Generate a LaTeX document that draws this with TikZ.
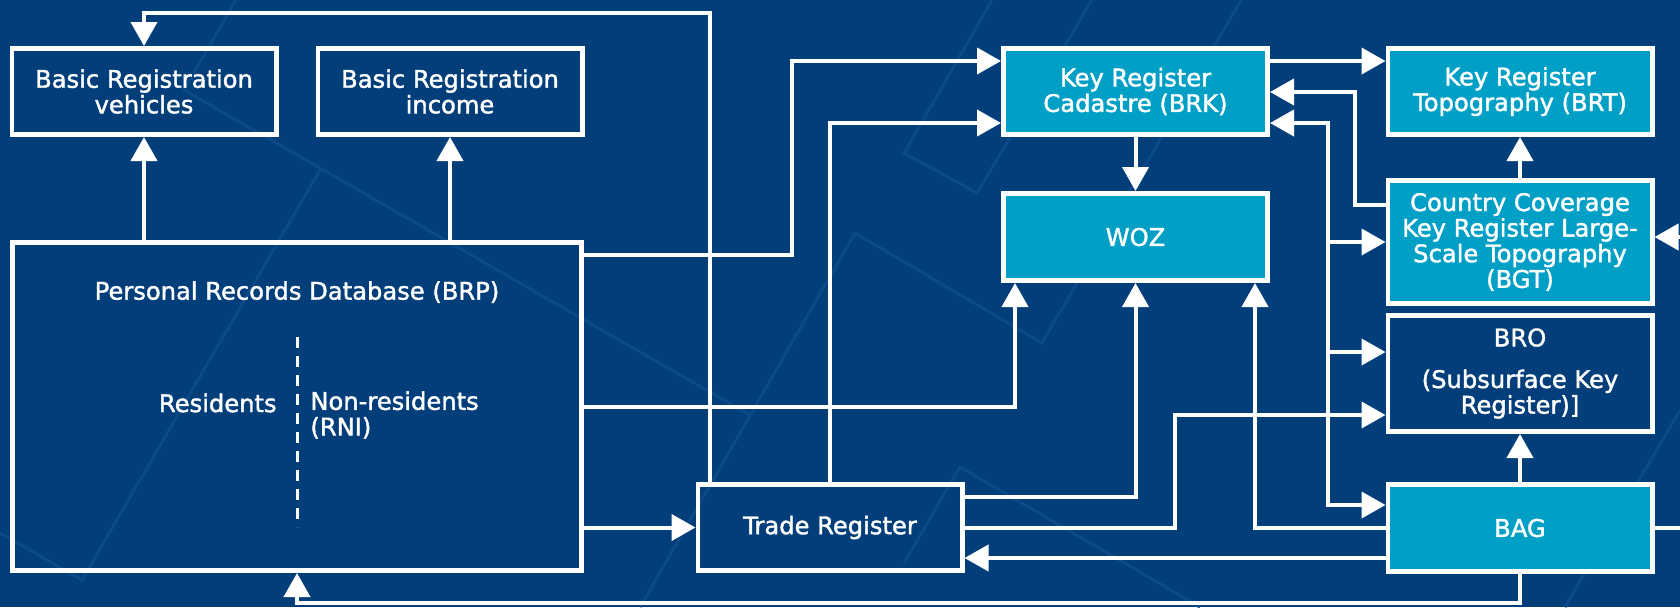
\documentclass[tikz,border=0pt]{standalone}
\usepackage{fontspec}
\setmainfont{DejaVu Sans}[RawFeature={embolden=1.6}]
\usetikzlibrary{arrows.meta}
\definecolor{navy}{RGB}{1,62,122}
\definecolor{cyanbox}{RGB}{0,160,198}
\definecolor{deco}{RGB}{11,73,136}
\newcommand{\fz}{\fontsize{12.1pt}{12.8pt}\selectfont}
\begin{document}
\begin{tikzpicture}[x=0.5pt,y=-0.5pt,
  >={Triangle[length=12pt,width=13pt]},
  box/.style={draw=white,line width=2.3pt,text=white,align=center,inner sep=0pt,
    minimum width=132.2pt,minimum height=43.2pt,font=\fz},
  lite/.style={box,fill=cyanbox},
  link/.style={draw=white,line width=2pt},
  decoline/.style={draw=deco,line width=1.5pt},
  lbl/.style={text=white,font=\fz,inner sep=0pt}]
\useasboundingbox (0,0) rectangle (1680,607);
\clip (0,0) rectangle (1680,607);
\fill[navy] (0,0) rectangle (1680,607);
% faint background pattern
\draw[decoline] (236,0) -- (184,90) -- (750,415);
\draw[decoline] (855,233) -- (640,607);
\draw[decoline] (321,168) -- (82,580) -- (0,533);
\draw[decoline] (992,0) -- (904,153) -- (977,193) -- (1092,0);
\draw[decoline] (855,233) -- (1042,343) -- (1241,0);
\draw[decoline] (904,563) -- (960,467) -- (1200,607);
\draw[decoline] (1680,410) -- (1565,607);
% nodes
\node[box] (veh) at (144,91.5) {Basic Registration\\vehicles};
\node[box] (inc) at (450,91.5) {Basic Registration\\income};
\node[box,minimum width=284.7pt,minimum height=164.2pt] (brp) at (297,406.5) {};
\node[lbl] (brptitle) at (297,292) {Personal Records Database (BRP)};
\node[lbl,anchor=east] (res) at (277,403) {Residents};
\node[lbl,anchor=west,align=left] (nonres) at (310,415) {Non-residents\\(RNI)};
\draw[white,line width=1.5pt,dash pattern=on 5.5pt off 4pt] (brp.center |- 0,337) -- (brp.center |- 0,527);
\node[box] (trade) at (830,527.5) {Trade Register};
\node[lite] (brk) at (1135.5,91.5) {Key Register\\Cadastre (BRK)};
\node[lite,minimum height=43.7pt] (woz) at (1135.5,237) {WOZ};
\node[lite] (brt) at (1520,91.5) {Key Register\\Topography (BRT)};
\node[lite,minimum height=61.7pt] (bgt) at (1520,242) {Country Coverage\\Key Register Large-\\Scale Topography\\(BGT)};
\node[box,minimum height=58.2pt] (bro) at (1520,373.5) {BRO\\[8pt](Subsurface Key\\Register)]};
\node[lite,minimum height=43.7pt] (bag) at (1520,528) {BAG};
\coordinate (offA) at (1700,528);
\coordinate (offB) at (1700,237);
% connectors
\draw[link,->] (trade.north -| 710,0) -- (710,12.7) -| (veh.north);
\draw[link,->] (brp.north -| veh.south) -- (veh.south);
\draw[link,->] (brp.north -| inc.south) -- (inc.south);
\draw[link,->] (brp.east |- 0,255) -| (791.5,61) -- (brk.west |- 0,61);
\draw[link,->] (brp.east |- 0,407) -| (woz.south -| 1015,0);
\draw[link,->] (brp.east |- trade.west) -- (trade.west);
\draw[link,->] (trade.north) |- (brk.west |- 0,123);
\draw[link,->] (trade.east |- 0,497) -| (woz.south);
\draw[link,->] (trade.east) -| (1175,415) -- (bro.west |- 0,415);
\draw[link,->] (bag.west |- 0,558) -- (trade.east |- 0,558);
\draw[link,->] (bag.west) -| (woz.south -| 1255,0);
\draw[link,->] (bag.north) -- (bro.south);
\draw[link,->] (bag.south) -- (bag.south |- 0,603) -| (brp.south);
\draw[link] (bag.east) -- (offA);
\draw[link,->] (offB) -- (bgt.east |- offB);
\draw[link,->] (brk.east |- 0,61) -- (brt.west |- 0,61);
\draw[link,->] (brk.south) -- (woz.north);
\draw[link,->] (bgt.west |- 0,205) -| (1354.5,92) -- (brk.east |- 0,92);
\draw[link,<->] (brk.east |- 0,123) -| (1327.5,505) -- (bag.west |- 0,505);
\draw[link,->] (1327.5,242) -- (bgt.west |- 0,242);
\draw[link,->] (1327.5,352) -- (bro.west |- 0,352);
\draw[link,->] (bgt.north) -- (brt.south);
\end{tikzpicture}
\end{document}
